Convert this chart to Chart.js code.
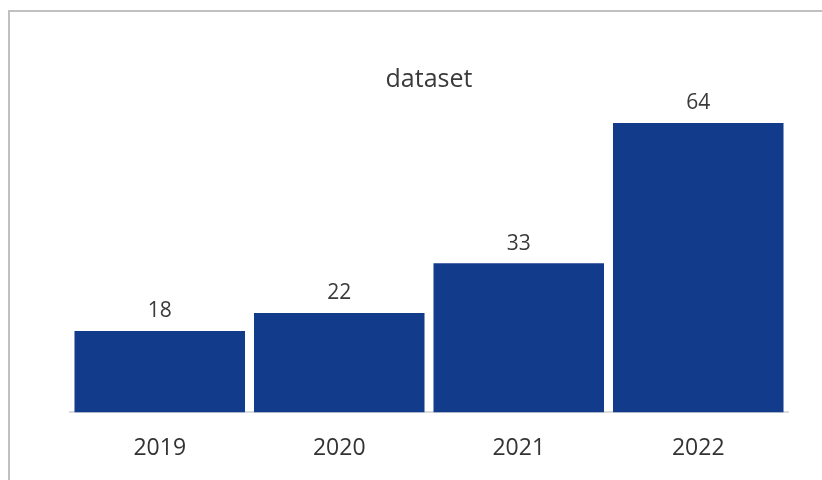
<!DOCTYPE html>
<html>
<head>
<meta charset="utf-8">
<script src="https://cdn.jsdelivr.net/npm/chart.js@4"></script>
<style>
  html, body { margin: 0; padding: 0; background: #fff; overflow: hidden; }
  .frame { position: absolute; left: 8px; top: 10px; width: 900px; height: 520px;
    border-left: 2px solid #c0c0c0; border-top: 2px solid #c0c0c0; }
  #chart { position: absolute; left: 10px; top: 12px; }
</style>
</head>
<body>
<div class="frame"></div>
<canvas id="chart" width="822" height="468"></canvas>
<script>
/* bar chart: dataset theo năm */
const years = ['2019', '2020', '2021', '2022'];
const values = [18, 22, 33, 64];
const seriesName = 'dataset';

const FONT = '"Open Sans", sans-serif';

// vẽ số liệu trên đầu cột
const valueLabels = {
  id: 'valueLabels',
  afterDatasetsDraw(chart) {
    const ctx = chart.ctx;
    const meta = chart.getDatasetMeta(0);
    ctx.save();
    ctx.font = '21px ' + FONT;
    ctx.fillStyle = '#3a3a3a';
    ctx.textAlign = 'center';
    ctx.textBaseline = 'bottom';
    meta.data.forEach((bar, i) => {
      ctx.fillText(String(chart.data.datasets[0].data[i]), bar.x, bar.y - 9);
    });
    ctx.restore();
  }
};

new Chart(document.getElementById('chart'), {
  type: 'bar',
  data: {
    labels: years,
    datasets: [{ label: seriesName, data: values, backgroundColor: '#133b8c',
      barPercentage: 0.95, categoryPercentage: 1 }]
  },
  options: {
    responsive: false,
    animation: false,
    layout: { padding: { left: 60, right: 44, top: 0, bottom: 4 } },
    plugins: {
      legend: { display: false },
      tooltip: { enabled: false },
      title: { display: true, text: seriesName, color: '#3a3a3a',
        font: { family: FONT, size: 25, weight: 'normal' },
        padding: { top: 53, bottom: 28 } }
    },
    scales: {
      x: {
        grid: { display: false },
        border: { display: true, color: '#dcdcdc', width: 2 },
        ticks: { color: '#333', padding: 14, font: { family: FONT, size: 23 } }
      },
      y: { display: false, min: 0, max: 64 }
    }
  },
  plugins: [valueLabels]
});
</script>
</body>
</html>
